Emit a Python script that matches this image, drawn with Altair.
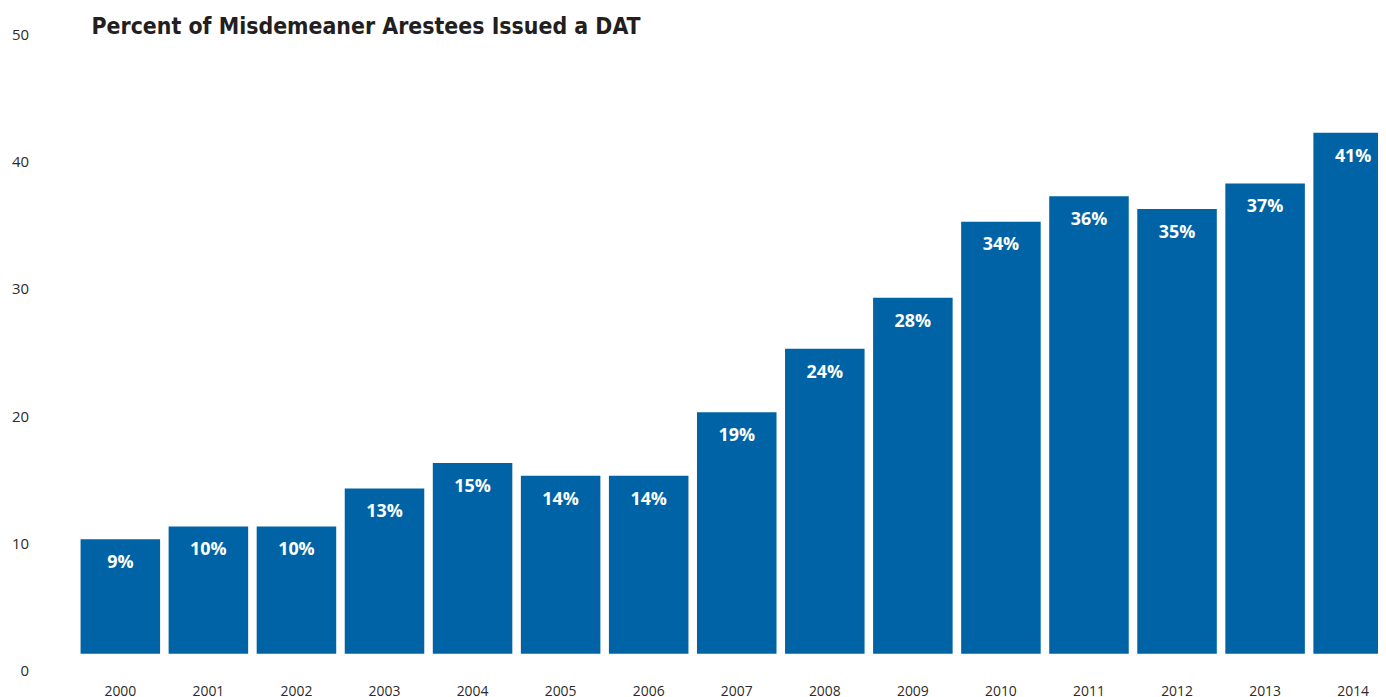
import altair as alt
import pandas as pd

years = [str(y) for y in range(2000, 2015)]
pct = [9, 10, 10, 13, 15, 14, 14, 19, 24, 28, 34, 36, 35, 37, 41]
y_ticks = [0, 10, 20, 30, 40, 50]
title_text = ["Percent of Misdemeaner Arestees Issued a DAT"]

BASE = 1.3  # bars in the original sit slightly above the zero line
BAR_COLOR = "#0063A6"

df = pd.DataFrame({"year": years, "pct": pct})

x_enc = alt.X(
    "year:O",
    scale=alt.Scale(range=[0, 1328.6], paddingInner=0.0968, paddingOuter=0.0484, round=False),
    axis=alt.Axis(title=None, labelAngle=0, ticks=False, domain=False, labelPadding=14,
                  labelFont="Open Sans", labelFontSize=14, labelColor="#2b2b2b"),
)

base = alt.Chart(df).transform_calculate(
    top=f"datum.pct + {BASE}", bottom=f"{BASE}", label="datum.pct + '%'"
)

bars = base.mark_bar(color=BAR_COLOR).encode(
    x=x_enc,
    y=alt.Y("top:Q", scale=alt.Scale(domain=[0, 50], nice=False),
            axis=alt.Axis(title=None, values=y_ticks, grid=False, ticks=False, domain=False,
                          labelPadding=48, labelFont="Open Sans", labelFontSize=15,
                          labelColor="#2b2b2b")),
    y2="bottom:Q",
)

labels = base.mark_text(color="white", font="Open Sans", fontWeight="bold", fontSize=18,
                        baseline="middle", dy=24).encode(
    x=alt.X("year:O"),
    y=alt.Y("top:Q"),
    text="label:N",
)

title = alt.Chart(pd.DataFrame({"t": title_text})).mark_text(
    align="left", baseline="alphabetic",
    font="'DejaVu Sans Condensed', 'Liberation Sans Narrow', 'Liberation Sans', sans-serif",
    fontSize=23, fontWeight="bold", color="#231F20"
).encode(x=alt.value(15.3), y=alt.value(-1), text="t:N")

chart = (bars + labels + title).properties(
    width=1309.3,
    height=639,
    padding={"left": 68.7, "top": 25, "right": 0, "bottom": 28},
    autosize=alt.AutoSizeParams(type="none"),
).configure_view(stroke=None)

chart.save("out.html", embed_options={"renderer": "svg", "actions": False})
